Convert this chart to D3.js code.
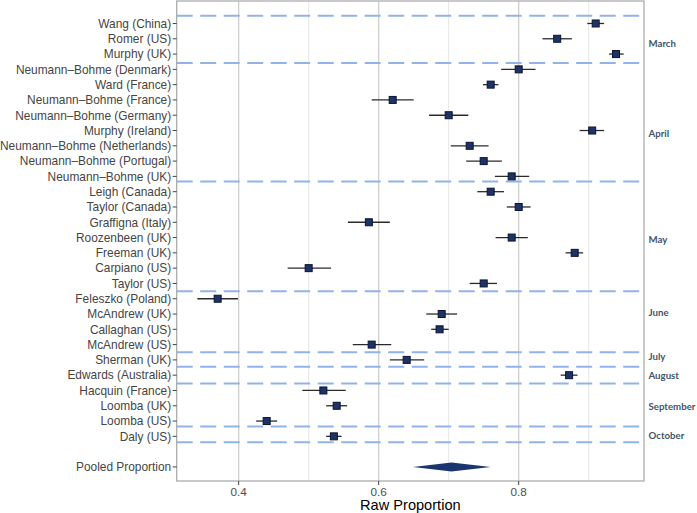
<!DOCTYPE html>
<html>
<head>
<meta charset="utf-8">
<script src="https://cdn.jsdelivr.net/npm/d3@7"></script>
<style>
  html, body { margin: 0; padding: 0; background: #fff; }
  svg { display: block; }
</style>
</head>
<body>
<script>
// ---- data ----
const studies = [
  "Wang (China)", "Romer (US)", "Murphy (UK)", "Neumann–Bohme (Denmark)", "Ward (France)",
  "Neumann–Bohme (France)", "Neumann–Bohme (Germany)", "Murphy (Ireland)",
  "Neumann–Bohme (Netherlands)", "Neumann–Bohme (Portugal)", "Neumann–Bohme (UK)",
  "Leigh (Canada)", "Taylor (Canada)", "Graffigna (Italy)", "Roozenbeen (UK)", "Freeman (UK)",
  "Carpiano (US)", "Taylor (US)", "Feleszko (Poland)", "McAndrew (UK)", "Callaghan (US)",
  "McAndrew (US)", "Sherman (UK)", "Edwards (Australia)", "Hacquin (France)", "Loomba (UK)",
  "Loomba (US)", "Daly (US)"
];
const proportion = [0.910, 0.855, 0.939, 0.800, 0.760, 0.620, 0.700, 0.905, 0.730, 0.750, 0.790,
  0.760, 0.800, 0.586, 0.790, 0.880, 0.500, 0.750, 0.370, 0.690, 0.687, 0.590, 0.640, 0.872,
  0.521, 0.540, 0.440, 0.536];
const lower = [0.898, 0.834, 0.929, 0.775, 0.749, 0.590, 0.672, 0.887, 0.703, 0.725, 0.766,
  0.741, 0.783, 0.556, 0.767, 0.867, 0.470, 0.730, 0.341, 0.668, 0.675, 0.563, 0.616, 0.860,
  0.491, 0.525, 0.425, 0.525];
const upper = [0.922, 0.876, 0.950, 0.824, 0.771, 0.650, 0.728, 0.922, 0.757, 0.776, 0.815,
  0.779, 0.817, 0.616, 0.813, 0.892, 0.532, 0.769, 0.399, 0.712, 0.700, 0.618, 0.665, 0.884,
  0.553, 0.555, 0.455, 0.547];
const pooledLabel = "Pooled Proportion";
const pooled = [0.649, 0.704, 0.760]; // lower, estimate, upper
const months = ["March", "April", "May", "June", "July", "August", "September", "October"];
const monthRow = [1.34, 7.19, 14.14, 18.92, 21.79, 23.02, 25.05, 26.94];
const separatorRow = [-0.51, 2.58, 10.33, 17.51, 21.5, 22.45, 23.55, 26.36, 27.38];
const xTicks = [0.4, 0.6, 0.8];
const xMinor = [0.5, 0.7, 0.9];
const xDomain = [0.3115, 0.979];
const xTitle = "Raw Proportion";

// ---- layout ----
const W = 697, H = 513;
const panel = { left: 176.7, right: 644, top: 1, bottom: 481 };

const svg = d3.select("body").append("svg").attr("width", W).attr("height", H);

const x = d3.scaleLinear().domain(xDomain).range([panel.left, panel.right]);
const pooledRow = studies.length + 1;
const y = d3.scaleLinear().domain([-1.47, 29.92]).range([panel.top, panel.bottom]);

svg.append("rect").attr("x", panel.left).attr("y", panel.top)
  .attr("width", panel.right - panel.left).attr("height", panel.bottom - panel.top)
  .attr("fill", "#fff");

// gridlines
svg.append("g").selectAll("line").data(xMinor).join("line")
  .attr("x1", d => x(d)).attr("x2", d => x(d))
  .attr("y1", panel.top).attr("y2", panel.bottom)
  .attr("stroke", "#e6e6e6").attr("stroke-width", 1);
svg.append("g").selectAll("line").data(xTicks).join("line")
  .attr("x1", d => x(d)).attr("x2", d => x(d))
  .attr("y1", panel.top).attr("y2", panel.bottom)
  .attr("stroke", "#cfcfcf").attr("stroke-width", 1.3);

// separators
svg.append("g").selectAll("line").data(separatorRow).join("line")
  .attr("x1", panel.left).attr("x2", panel.right - 3)
  .attr("y1", d => y(d)).attr("y2", d => y(d))
  .attr("stroke", "#92b3ea").attr("stroke-width", 2)
  .attr("stroke-dasharray", "16,7.5");

// error bars
const rows = studies.map((s, i) => ({ s, i, p: proportion[i], lo: lower[i], hi: upper[i] }));
svg.append("g").selectAll("line").data(rows).join("line")
  .attr("x1", d => x(d.lo)).attr("x2", d => x(d.hi))
  .attr("y1", d => y(d.i)).attr("y2", d => y(d.i))
  .attr("stroke", "#2b2b2b").attr("stroke-width", 1.3);

// squares
const sq = 7;
svg.append("g").selectAll("rect").data(rows).join("rect")
  .attr("x", d => x(d.p) - sq / 2).attr("y", d => y(d.i) - sq / 2)
  .attr("width", sq).attr("height", sq)
  .attr("fill", "#1d3366").attr("stroke", "#0b1430").attr("stroke-width", 1);

// pooled diamond
const dy = y(pooledRow), dh = 4.5;
svg.append("path")
  .attr("d", `M${x(pooled[0])},${dy} L${x(pooled[1])},${dy - dh} L${x(pooled[2])},${dy} L${x(pooled[1])},${dy + dh} Z`)
  .attr("fill", "#1b3570");

// panel border
svg.append("rect").attr("x", panel.left).attr("y", panel.top)
  .attr("width", panel.right - panel.left).attr("height", panel.bottom - panel.top)
  .attr("fill", "none").attr("stroke", "#a6a6a6").attr("stroke-width", 1.2);

// y axis labels + ticks
const yLabels = rows.map(d => ({ label: d.s, i: d.i })).concat([{ label: pooledLabel, i: pooledRow }]);
const yg = svg.append("g");
yg.selectAll("line").data(yLabels).join("line")
  .attr("x1", panel.left - 4).attr("x2", panel.left)
  .attr("y1", d => y(d.i)).attr("y2", d => y(d.i))
  .attr("stroke", "#444").attr("stroke-width", 1);
yg.selectAll("text").data(yLabels).join("text")
  .attr("x", panel.left - 5.5).attr("y", d => y(d.i))
  .attr("dy", "0.36em").attr("text-anchor", "end")
  .attr("font-family", "Liberation Sans, Arial, sans-serif").attr("font-size", 11.9)
  .attr("fill", "#454545").text(d => d.label);

// x axis ticks + labels
const xg = svg.append("g");
xg.selectAll("line").data(xTicks).join("line")
  .attr("x1", d => x(d)).attr("x2", d => x(d))
  .attr("y1", panel.bottom).attr("y2", panel.bottom + 4)
  .attr("stroke", "#444");
xg.selectAll("text").data(xTicks).join("text")
  .attr("x", d => x(d)).attr("y", panel.bottom + 14.5)
  .attr("text-anchor", "middle")
  .attr("font-family", "Liberation Sans, Arial, sans-serif").attr("font-size", 11.7)
  .attr("fill", "#4d4d4d").text(d => d3.format(".1f")(d));

svg.append("text")
  .attr("x", (panel.left + panel.right) / 2).attr("y", 510)
  .attr("text-anchor", "middle")
  .attr("font-family", "Liberation Sans, Arial, sans-serif").attr("font-size", 14.6)
  .attr("fill", "#000").text(xTitle);

// month labels (font sized so "September" spans about 47px, as in the reference)
const mg = svg.append("g");
const mt = mg.selectAll("text").data(months).join("text")
  .attr("x", 648.5).attr("y", (d, i) => y(monthRow[i]))
  .attr("dy", "0.35em")
  .attr("font-family", "Lato, sans-serif").attr("font-weight", "bold").attr("font-size", 10)
  .attr("fill", "#44546a").text(d => d);
let maxLen = 0;
mt.each(function () { maxLen = Math.max(maxLen, this.getComputedTextLength()); });
if (maxLen > 0) mt.attr("font-size", 10 * 47 / maxLen);
</script>
</body>
</html>
